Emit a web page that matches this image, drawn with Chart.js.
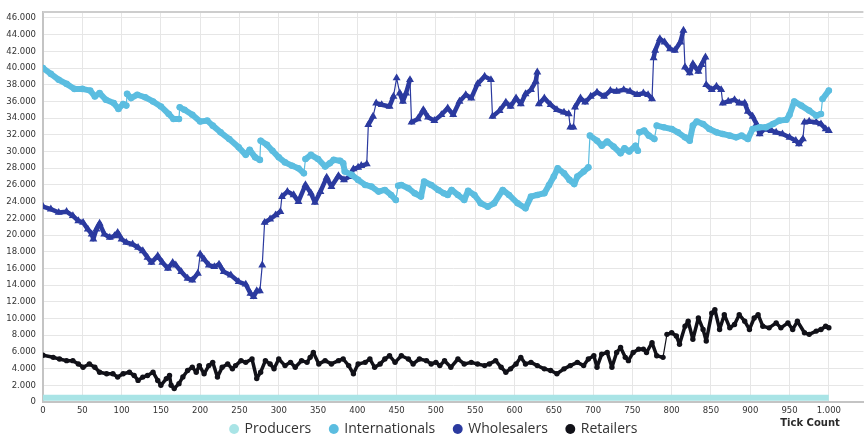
<!DOCTYPE html>
<html>
<head>
<meta charset="utf-8">
<script src="https://cdn.jsdelivr.net/npm/chart.js@4.4.1/dist/chart.umd.min.js"></script>
<style>
  html, body { margin: 0; padding: 0; background: #ffffff; }
  canvas { display: block; }
</style>
</head>
<body>
<canvas id="chart" width="868" height="439"></canvas>
<script>
// ---- data -------------------------------------------------------------
const seriesNames = ['Producers', 'Internationals', 'Wholesalers', 'Retailers'];
const xAxisTitle = 'Tick Count';

const xTickValues = [0,50,100,150,200,250,300,350,400,450,500,550,600,650,700,750,800,850,900,950,1000];
const yTickValues = [0,2000,4000,6000,8000,10000,12000,14000,16000,18000,20000,22000,24000,26000,28000,30000,32000,34000,36000,38000,40000,42000,44000,46000];

const producersTicks = [0, 1000];
const producersValues = [500, 500];

const internationalsTicks = [0,10,20,30,40,50,60,66,72,80,90,96,102,106,107,112,120,130,140,150,160,166,173,174,180,190,200,209,216,226,237,249,258,263,270,276,277,285,292,300,308,317,325,332,334,341,350,359,365,370,378,382,384,393,401,410,418,427,435,443,449,452,456,465,473,481,485,494,503,510,515,520,528,536,541,549,557,566,574,585,593,604,614,621,629,638,644,650,655,663,670,676,680,688,694,696,705,711,718,726,735,740,746,754,757,759,765,771,778,781,790,800,808,817,823,827,832,840,848,857,865,874,882,889,897,903,912,920,929,937,946,950,956,965,975,984,990,992,1000];
const internationalsValues = [40000,39300,38600,38100,37500,37500,37300,36600,37000,36200,35800,35100,35700,35500,36900,36400,36800,36500,36000,35400,34500,33900,33900,35300,35000,34400,33600,33700,33100,32300,31500,30500,29600,30200,29300,29000,31300,30800,30100,29300,28700,28300,28000,27400,29100,29600,29100,28200,28600,29000,28900,28600,27600,27200,26600,26000,25800,25200,25400,24800,24200,25900,26000,25600,25000,24600,26400,26000,25400,25000,24800,25400,24800,24200,25300,24800,23800,23400,23800,25400,24800,23800,23200,24600,24800,25000,26000,27000,28000,27400,26600,26100,27000,27600,28100,31900,31300,30700,31200,30600,29800,30400,30000,30700,30100,32300,32500,31900,31500,33100,32900,32700,32300,31700,31300,33100,33600,33300,32700,32300,32100,31900,31700,31900,31500,32700,32900,32900,33300,33700,33800,34400,36000,35500,34900,34300,34500,36300,37300];

const wholesalersTicks = [0,10,20,30,38,45,51,57,62,64,68,72,78,85,91,95,100,106,114,121,127,133,138,146,152,159,165,169,176,184,190,197,200,205,211,218,224,230,239,249,258,264,268,272,276,279,282,289,296,302,304,311,319,325,334,341,346,353,361,367,376,383,390,395,401,405,412,414,420,424,431,441,446,450,454,458,462,467,469,477,484,490,498,507,515,522,530,538,545,553,562,570,572,581,589,595,602,608,614,621,627,629,631,638,646,654,663,669,671,675,677,684,690,697,705,714,722,730,739,747,756,764,770,775,777,779,785,791,798,804,811,815,817,823,827,834,838,843,844,851,857,863,865,872,880,886,893,897,903,908,912,918,927,933,941,950,958,962,967,969,975,984,990,996,1000];
const wholesalersValues = [23400,23100,22700,22800,22300,21700,21500,20700,20100,19500,20700,21400,20100,19700,19900,20300,19500,19100,18900,18500,18100,17300,16700,17500,16700,16000,16700,16400,15600,14800,14600,15400,17700,17100,16400,16200,16500,15600,15200,14400,14100,13000,12600,13300,13300,16400,21500,21900,22400,22800,24600,25200,24800,24000,26000,25000,23900,25200,26900,25800,27100,26600,27000,27900,28100,28300,28500,33200,34200,35800,35600,35400,36600,38800,37000,36000,37000,38600,33500,33900,35000,34100,33700,34400,35200,34400,36000,36800,36400,38100,39000,38600,34200,34900,35900,35400,36400,35700,36900,37400,38400,39500,35700,36400,35600,35000,34700,34500,32900,32900,35300,36400,35900,36600,37100,36600,37300,37200,37400,37200,36800,37000,36800,36300,41200,42100,43500,43100,42300,42100,43100,44500,40100,39400,40500,39600,40400,41300,38000,37400,37800,37400,35800,36000,36200,35800,35800,34800,34200,33300,32100,32700,32500,32300,32100,31700,31300,30900,31500,33500,33600,33500,33300,32700,32500];

const retailersTicks = [0,13,21,30,38,45,51,59,66,72,81,89,95,102,110,116,121,127,133,140,146,150,157,161,163,167,173,178,184,190,195,199,205,211,216,222,228,235,241,245,252,258,266,272,277,283,289,294,300,308,315,321,329,336,340,344,351,359,367,376,382,389,395,401,410,416,422,429,435,441,448,456,465,471,479,488,494,500,505,511,519,528,536,545,553,562,568,576,583,589,595,602,608,614,621,629,638,646,654,663,671,680,688,694,701,705,711,718,724,730,735,741,745,751,758,764,768,775,781,789,794,800,806,810,817,821,827,834,840,844,851,855,861,867,874,880,886,893,899,905,910,916,924,933,939,948,954,960,969,975,984,990,996,1000];
const retailersValues = [5600,5350,5150,4950,4950,4560,4160,4560,4160,3570,3380,3380,2980,3380,3570,3180,2590,2980,3180,3570,2590,2000,2800,3180,2000,1620,2200,3000,3770,4160,3570,4360,3380,4360,4750,2980,4160,4560,3970,4360,4950,4750,5150,2800,3570,4950,4560,3970,5150,4360,4750,4160,4950,4750,5350,5930,4560,4950,4560,4950,5150,4360,3380,4560,4750,5150,4160,4560,5150,5540,4750,5540,5150,4560,5150,4950,4560,4750,4360,4950,4160,5150,4560,4750,4560,4360,4560,4950,4160,3570,3970,4560,5350,4560,4750,4360,3970,3770,3380,3970,4360,4750,4360,5150,5540,4160,5740,5930,4160,5930,6520,5350,4950,5930,6330,6330,5930,7110,5540,5350,8100,8290,7900,6920,9080,9670,7510,10060,8690,7310,10650,11050,8690,10460,8880,9280,10460,9670,8690,10060,10460,9080,8880,9470,8880,9470,8690,9670,8290,8100,8490,8690,9080,8900];

// ---- helpers ------------------------------------------------------------
const pairs = (xs, ys) => xs.map((x, i) => ({ x: x, y: ys[i] }));
const groupDigits = v => String(Math.round(v)).replace(/\B(?=(\d{3})+(?!\d))/g, '.');
const fixedTicks = values => scale => { scale.ticks = values.map(v => ({ value: v })); };

// thin connector on abrupt jumps, thick band elsewhere
const bandWidth = (thick, thin, minJump, maxGap) => ctx => {
  const dy = Math.abs(ctx.p1.parsed.y - ctx.p0.parsed.y);
  const dx = Math.abs(ctx.p1.parsed.x - ctx.p0.parsed.x);
  return (dy > minJump && dx <= maxGap) ? thin : thick;
};

const COLORS = {
  producers: '#a9e4e6',
  internationals: '#5bbde0',
  wholesalers: '#2b3a9f',
  retailers: '#111118'
};

// ---- extra drawing -------------------------------------------------------
const frameTop = {
  id: 'frameTop',
  beforeDatasetsDraw(chart) {
    const { ctx, chartArea } = chart;
    ctx.save();
    ctx.strokeStyle = '#cdcdcd';
    ctx.lineWidth = 2;
    ctx.beginPath();
    ctx.moveTo(chartArea.left, chartArea.top);
    ctx.lineTo(chartArea.right, chartArea.top);
    ctx.stroke();
    ctx.restore();
  }
};

const axisCaption = {
  id: 'axisCaption',
  afterDraw(chart) {
    const { ctx, chartArea, scales } = chart;
    ctx.save();
    ctx.font = 'bold 10px "DejaVu Sans"';
    ctx.fillStyle = '#2b2b2b';
    ctx.textAlign = 'right';
    ctx.textBaseline = 'middle';
    ctx.fillText(xAxisTitle, scales.x.getPixelForValue(1000) + 11, chartArea.bottom + 21);
    ctx.restore();
  }
};

// legend row sits tight under the tick labels
const legendRow = {
  id: 'legendRow',
  afterInit(chart) {
    const legend = chart.legend;
    if (!legend) return;
    const baseFit = legend.fit.bind(legend);
    legend.fit = function () { baseFit(); this.height = 17; };
  },
  afterLayout(chart) {
    const legend = chart.legend;
    if (!legend) return;
    legend.top -= legend.options.labels.padding;
    legend.bottom = chart.height;
  }
};

// ---- chart -------------------------------------------------------------
const tickFont = { family: '"DejaVu Sans"', size: 8.5 };

new Chart(document.getElementById('chart'), {
  type: 'line',
  data: {
    datasets: [
      {
        label: seriesNames[0],
        data: pairs(producersTicks, producersValues),
        borderColor: COLORS.producers,
        backgroundColor: COLORS.producers,
        borderWidth: 6,
        pointRadius: 0,
        borderCapStyle: 'butt',
        pointStyle: 'circle'
      },
      {
        label: seriesNames[1],
        data: pairs(internationalsTicks, internationalsValues),
        borderColor: COLORS.internationals,
        backgroundColor: COLORS.internationals,
        borderWidth: 6,
        borderJoinStyle: 'round',
        borderCapStyle: 'round',
        pointStyle: 'circle',
        pointRadius: 3.3,
        pointBorderWidth: 0,
        segment: { borderWidth: bandWidth(6, 1.2, 1200, 3) }
      },
      {
        label: seriesNames[2],
        data: pairs(wholesalersTicks, wholesalersValues),
        borderColor: COLORS.wholesalers,
        backgroundColor: COLORS.wholesalers,
        borderWidth: 4.5,
        borderJoinStyle: 'round',
        borderCapStyle: 'round',
        pointStyle: 'triangle',
        pointRadius: 4.6,
        pointBorderWidth: 0,
        segment: { borderWidth: bandWidth(4.5, 1.2, 1400, 4) }
      },
      {
        label: seriesNames[3],
        data: pairs(retailersTicks, retailersValues),
        borderColor: COLORS.retailers,
        backgroundColor: COLORS.retailers,
        borderWidth: 3.5,
        borderJoinStyle: 'round',
        borderCapStyle: 'round',
        pointStyle: 'circle',
        pointRadius: 2.7,
        pointBorderWidth: 0,
        segment: { borderWidth: bandWidth(3.5, 1.2, 2200, 5) }
      }
    ]
  },
  options: {
    responsive: false,
    animation: false,
    events: [],
    layout: { padding: { top: 6, right: 0, bottom: 0, left: 0 } },
    scales: {
      x: {
        type: 'linear',
        min: 0,
        max: 1044,
        afterBuildTicks: fixedTicks(xTickValues),
        afterFit(scale) { scale.height = 20; },
        ticks: {
          autoSkip: false,
          maxRotation: 0,
          padding: 4,
          font: tickFont,
          color: '#333333',
          callback: v => groupDigits(v)
        },
        grid: { color: '#e6e6e6', lineWidth: 1, drawTicks: false },
        border: { color: '#c4c4c4', width: 2 }
      },
      y: {
        min: 0,
        max: 46700,
        afterBuildTicks: fixedTicks(yTickValues),
        afterFit(scale) { scale.width = 43; },
        ticks: {
          autoSkip: false,
          padding: 7,
          font: tickFont,
          color: '#333333',
          callback: v => groupDigits(v)
        },
        grid: { color: '#e6e6e6', lineWidth: 1, drawTicks: false },
        border: { color: '#c4c4c4', width: 2 }
      }
    },
    plugins: {
      tooltip: { enabled: false },
      legend: {
        position: 'bottom',
        labels: {
          usePointStyle: true,
          pointStyle: 'circle',
          boxWidth: 7,
          boxHeight: 7,
          padding: 19,
          color: '#333333',
          font: { family: '"Open Sans"', size: 14 },
          generateLabels(chart) {
            return Chart.defaults.plugins.legend.labels.generateLabels(chart).map(item => {
              item.lineWidth = 0;
              return item;
            });
          }
        }
      }
    }
  },
  plugins: [frameTop, axisCaption, legendRow]
});
</script>
</body>
</html>
